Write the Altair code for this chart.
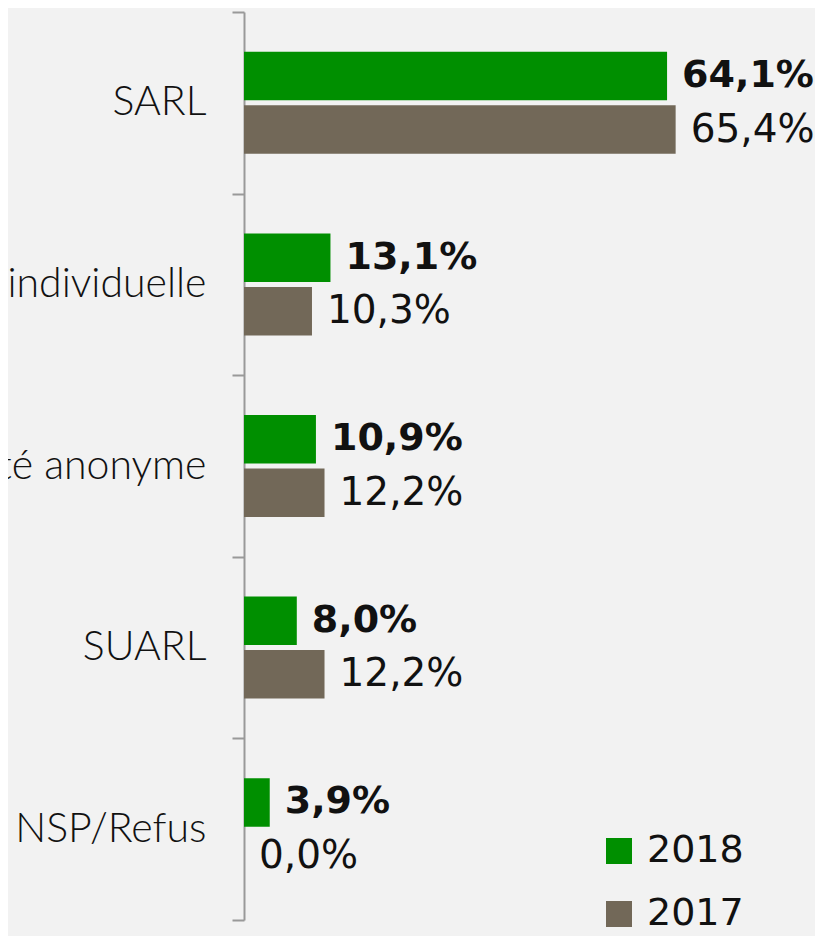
import altair as alt
import pandas as pd

categories = ["SARL", "Entreprise individuelle", "Société anonyme", "SUARL", "NSP/Refus"]
v2018 = [64.1, 13.1, 10.9, 8.0, 3.9]
v2017 = [65.4, 10.3, 12.2, 12.2, 0.0]
years = ["2018", "2017"]
colors = ["#008f00", "#726858"]

rows = []
for c, a, b in zip(categories, v2018, v2017):
    rows.append({"cat": c, "year": "2018", "value": a})
    rows.append({"cat": c, "year": "2017", "value": b})
df = pd.DataFrame(rows)
df["label"] = df["value"].map(lambda v: f"{v:.1f}".replace(".", ",") + "%")

y = alt.Y(
    "cat:N",
    sort=categories,
    scale=alt.Scale(domain=categories, paddingInner=0, paddingOuter=0),
    axis=alt.Axis(
        title=None, tickBand="extent", tickSize=12, tickWidth=2, tickColor="#999999",
        domainColor="#999999", domainWidth=2, labelFont="Lato", labelFontSize=41,
        labelFontWeight=300, labelColor="#111111", labelPadding=26, labelLimit=1000,
    ),
)
yoff = alt.YOffset(
    "year:N", sort=years,
    scale=alt.Scale(domain=years, paddingInner=0.093, paddingOuter=0.744),
)
x = alt.X("value:Q", scale=alt.Scale(domain=[0, 80], nice=False, zero=True), axis=None)

base = alt.Chart(df)

bars = base.mark_bar().encode(
    x=x, y=y, yOffset=yoff,
    color=alt.Color(
        "year:N", sort=years,
        scale=alt.Scale(domain=years, range=colors),
        legend=alt.Legend(
            orient="none", legendX=356, legendY=820, title=None, symbolType="square",
            symbolSize=676, symbolStrokeWidth=0, labelFont="DejaVu Sans", labelFontSize=38,
            labelColor="#111111", rowPadding=25, labelOffset=9, padding=0,
        ),
    ),
)

t2018 = base.transform_filter(alt.datum.year == "2018").mark_text(
    align="left", baseline="middle", dx=15, font="DejaVu Sans", fontSize=38,
    fontWeight="bold", color="#111111",
).encode(x=x, y=y, yOffset=yoff, text="label:N")

t2017 = base.transform_filter(alt.datum.year == "2017").mark_text(
    align="left", baseline="middle", dx=15, font="DejaVu Sans", fontSize=39,
    color="#111111",
).encode(x=x, y=y, yOffset=yoff, text="label:N")

chart = alt.layer(bars, t2018, t2017).properties(
    width=528, height=908,
    autosize=alt.AutoSizeParams(type="none"),
    padding={"left": 236, "top": 4, "right": 43, "bottom": 16},
    background="#f2f2f2",
).configure_view(stroke=None)

chart.save("out.html", embed_options={"renderer": "svg", "actions": False})
